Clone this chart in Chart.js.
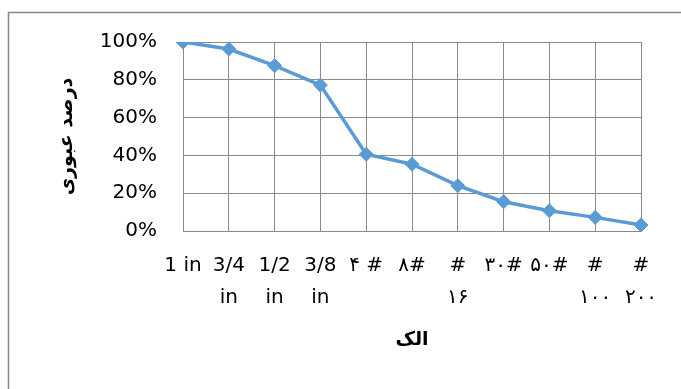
<!DOCTYPE html>
<html>
<head>
<meta charset="utf-8">
<script src="https://cdn.jsdelivr.net/npm/chart.js@4/dist/chart.umd.min.js"></script>
<style>
  html, body { margin: 0; padding: 0; background: #fff; }
  #wrap { width: 681px; height: 389px; position: relative; }
</style>
</head>
<body>
<div id="wrap"><canvas id="sieve-chart" width="681" height="389"></canvas></div>
<script>
// sieve sizes (multi-line labels) and percent passing
const sieveLabels = [['1 in'], ['3/4', 'in'], ['1/2', 'in'], ['3/8', 'in'], ['۴ #'], ['۸#'], ['#', '۱۶'], ['۳۰#'], ['۵۰#'], ['#', '۱۰۰'], ['#', '۲۰۰']];
const passingPercent = [100, 96.3, 87.5, 77.2, 40.6, 35.3, 24, 15.5, 10.7, 7.2, 3.2];
const yTicks = [0, 20, 40, 60, 80, 100];

const tickFont = { family: "'DejaVu Sans'", size: 20, lineHeight: 1.6 };
const gridColor = '#8a8a8a';

// thin frame around the chart object (top and left edges)
const framePlugin = {
    id: 'frame',
    beforeDraw(chart) {
        const ctx = chart.ctx;
        ctx.save();
        ctx.strokeStyle = '#888';
        ctx.lineWidth = 1.5;
        ctx.beginPath();
        ctx.moveTo(8.5, chart.height);
        ctx.lineTo(8.5, 12.5);
        ctx.lineTo(chart.width, 12.5);
        ctx.stroke();
        ctx.restore();
    }
};

new Chart(document.getElementById('sieve-chart'), {
    type: 'line',
    data: {
        labels: sieveLabels,
        datasets: [{
            data: passingPercent,
            borderColor: '#5b9bd5',
            backgroundColor: '#5b9bd5',
            borderWidth: 3.5,
            pointStyle: 'rectRot',
            pointRadius: 7,
            pointBorderWidth: 1,
            tension: 0
        }]
    },
    options: {
        responsive: false,
        animation: false,
        layout: { padding: { left: 56, top: 42, right: 40, bottom: 37 } },
        plugins: { legend: { display: false }, tooltip: { enabled: false } },
        scales: {
            x: {
                offset: false,
                grid: { color: gridColor, lineWidth: 1, drawTicks: false },
                border: { color: gridColor, width: 1 },
                ticks: {
                    color: '#000', font: tickFont, padding: 19,
                    autoSkip: false, maxRotation: 0, minRotation: 0
                },
                title: {
                    display: true, text: 'الک', color: '#000',
                    font: { family: "'DejaVu Sans'", size: 19, weight: 'bold', lineHeight: 1.3 },
                    padding: 0
                },
                afterFit(scale) { scale.height = 121; }
            },
            y: {
                min: 0, max: 100,
                afterBuildTicks(scale) { scale.ticks = yTicks.map(v => ({ value: v })); },
                grid: { color: gridColor, lineWidth: 1, drawTicks: false },
                border: { color: gridColor, width: 1 },
                ticks: {
                    color: '#000', font: tickFont, padding: 26,
                    callback: v => v + '%'
                },
                title: {
                    display: true, text: 'درصد عبوری', color: '#000',
                    font: { family: "'DejaVu Sans'", size: 19, weight: 'bold', lineHeight: 1.12 },
                    padding: 0
                },
                afterFit(scale) { scale.width = 127; }
            }
        }
    },
    plugins: [framePlugin]
});
</script>
</body>
</html>
